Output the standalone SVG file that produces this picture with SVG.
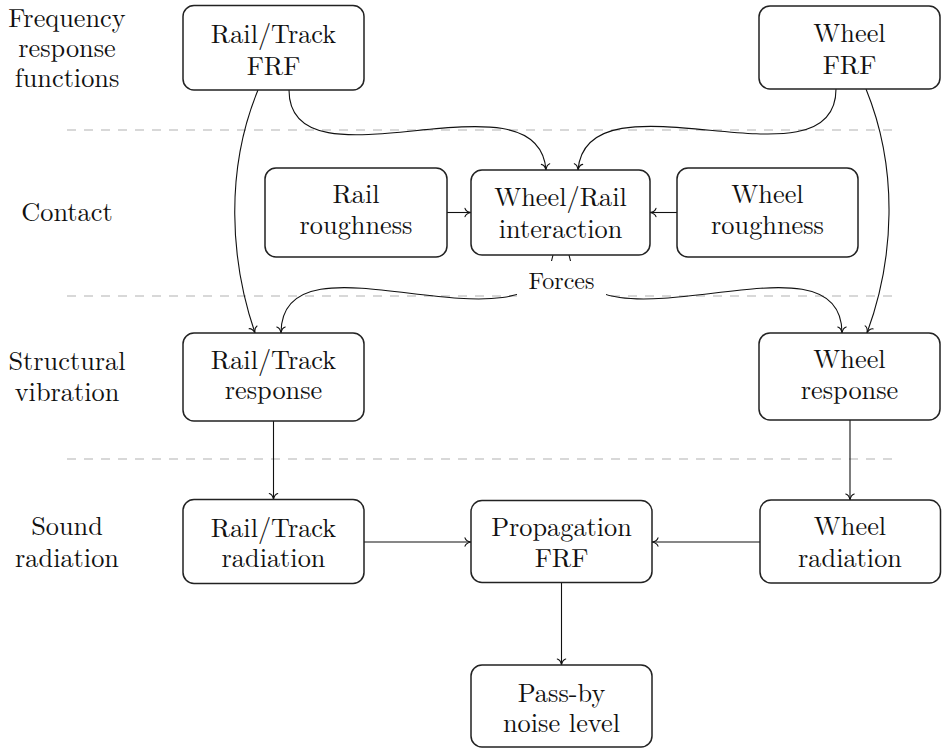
<svg xmlns="http://www.w3.org/2000/svg" width="942" height="748" viewBox="0 0 942 748">
<style>
.box{fill:#fff;stroke:#222;stroke-width:1.5}
.t{font-family:'Latin Modern Roman','CMU Serif','Liberation Serif','DejaVu Serif','Noto Serif','Noto Serif CJK SC','Noto Serif CJK JP','Tinos','FreeSerif','Nimbus Roman','TeX Gyre Termes','Times New Roman',Times,Georgia,serif;font-size:26.3px;fill:#111;text-anchor:middle}
.f{font-family:'Latin Modern Roman','CMU Serif','Liberation Serif','DejaVu Serif','Noto Serif','Noto Serif CJK SC','Noto Serif CJK JP','Tinos','FreeSerif','Nimbus Roman','TeX Gyre Termes','Times New Roman',Times,Georgia,serif;font-size:24px;fill:#111;text-anchor:middle}
.sep{stroke:#cccccc;stroke-width:1.3;stroke-dasharray:9 8;fill:none}
.c{fill:none;stroke:#111;stroke-width:1.1}
</style>
<defs>
<marker id="ah" markerUnits="userSpaceOnUse" markerWidth="12" markerHeight="12" refX="0" refY="0" orient="auto" overflow="visible">
<path d="M-6,-4.2 C-5.3,-1.6 -2.2,-0.4 0,0 C-2.2,0.4 -5.3,1.6 -6,4.2" fill="none" stroke="#111" stroke-width="1.1" stroke-linecap="round"/>
</marker>
</defs>

<g id="separators">
<line class="sep" x1="67" y1="130" x2="893" y2="130"/>
<line class="sep" x1="67" y1="296" x2="893" y2="296"/>
<line class="sep" x1="67" y1="459" x2="893" y2="459"/>
</g>

<g id="row-labels">
<text class="t" x="67" y="26.5">Frequency</text>
<text class="t" x="67" y="56.5">response</text>
<text class="t" x="67" y="86.5">functions</text>
<text class="t" x="67" y="220.5">Contact</text>
<text class="t" x="67" y="370">Structural</text>
<text class="t" x="67" y="401">vibration</text>
<text class="t" x="67" y="535">Sound</text>
<text class="t" x="67" y="567">radiation</text>
</g>

<g id="connectors">
<path class="c" marker-end="url(#ah)" d="M289,90 C289,196 538,66 546,170"/>
<path class="c" marker-end="url(#ah)" d="M836,89 C836,195 587,66 578,170"/>
<path class="c" marker-end="url(#ah)" d="M258,90 C225,170 230,260 255,333"/>
<path class="c" marker-end="url(#ah)" d="M866,89 C899,170 894,260 867,333"/>
<path class="c" marker-end="url(#ah)" d="M553,255 C534,364 281,222 281,333"/>
<path class="c" marker-end="url(#ah)" d="M569,255 C588,364 842,222 842,333"/>
<path class="c" marker-end="url(#ah)" d="M447,212.5 H471"/>
<path class="c" marker-end="url(#ah)" d="M677,212.5 H650"/>
<path class="c" marker-end="url(#ah)" d="M273.5,421 V499.5"/>
<path class="c" marker-end="url(#ah)" d="M850,420 V500"/>
<path class="c" marker-end="url(#ah)" d="M364,542 H471"/>
<path class="c" marker-end="url(#ah)" d="M760,542 H652"/>
<path class="c" marker-end="url(#ah)" d="M561.5,582.5 V665"/>
</g>

<g id="forces-label">
<rect x="517" y="261" width="89" height="38" fill="#fff"/>
<text class="f" x="561.5" y="288.5">Forces</text>
</g>

<g id="rail-track-frf">
<rect class="box" x="183" y="5.5" width="181" height="84.5" rx="11"/>
<text class="t" x="273.5" y="43">Rail/Track</text>
<text class="t" x="273.5" y="74.5">FRF</text>
</g>
<g id="wheel-frf">
<rect class="box" x="759" y="6" width="181" height="83" rx="11"/>
<text class="t" x="849.5" y="42">Wheel</text>
<text class="t" x="849.5" y="74">FRF</text>
</g>
<g id="rail-roughness">
<rect class="box" x="265" y="168" width="182" height="89" rx="11"/>
<text class="t" x="356" y="203">Rail</text>
<text class="t" x="356" y="234">roughness</text>
</g>
<g id="wheel-rail-interaction">
<rect class="box" x="471" y="170" width="179" height="85" rx="11"/>
<text class="t" x="560.5" y="206">Wheel/Rail</text>
<text class="t" x="560.5" y="238">interaction</text>
</g>
<g id="wheel-roughness">
<rect class="box" x="677" y="168" width="181" height="89" rx="11"/>
<text class="t" x="767.5" y="203">Wheel</text>
<text class="t" x="767.5" y="234">roughness</text>
</g>
<g id="rail-track-response">
<rect class="box" x="183" y="333" width="181" height="88" rx="11"/>
<text class="t" x="273.5" y="369">Rail/Track</text>
<text class="t" x="273.5" y="398.5">response</text>
</g>
<g id="wheel-response">
<rect class="box" x="759" y="333" width="181" height="87" rx="11"/>
<text class="t" x="849.5" y="368">Wheel</text>
<text class="t" x="849.5" y="399">response</text>
</g>
<g id="rail-track-radiation">
<rect class="box" x="183" y="499.5" width="181" height="84" rx="11"/>
<text class="t" x="273.5" y="537">Rail/Track</text>
<text class="t" x="273.5" y="567">radiation</text>
</g>
<g id="propagation-frf">
<rect class="box" x="471" y="500.5" width="181" height="82" rx="11"/>
<text class="t" x="561.5" y="535.5">Propagation</text>
<text class="t" x="561.5" y="567">FRF</text>
</g>
<g id="wheel-radiation">
<rect class="box" x="760" y="500" width="180.5" height="83" rx="11"/>
<text class="t" x="850" y="535">Wheel</text>
<text class="t" x="850" y="566.5">radiation</text>
</g>
<g id="pass-by-noise-level">
<rect class="box" x="471" y="665" width="181" height="82" rx="11"/>
<text class="t" x="561.5" y="702">Pass-by</text>
<text class="t" x="561.5" y="732">noise level</text>
</g>
</svg>
